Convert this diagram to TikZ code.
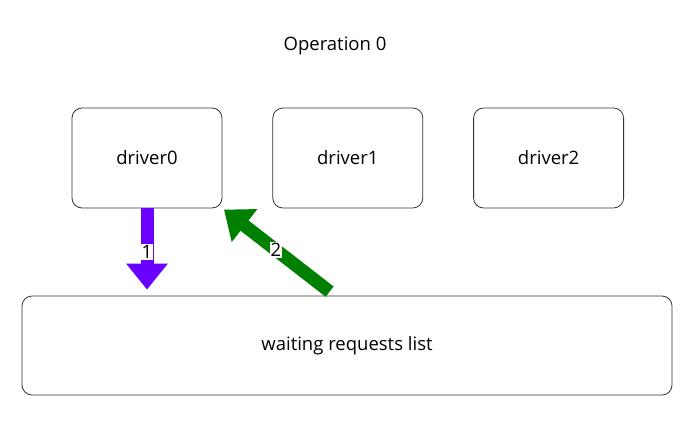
\documentclass[tikz,border=0pt]{standalone}
\usepackage{fontspec}
\setmainfont{Open Sans}
\usetikzlibrary{arrows.meta}
\usetikzlibrary{positioning}
\definecolor{reqpurple}{HTML}{6A00FF}
\definecolor{reqgreen}{HTML}{008000}
\tikzset{
    box/.style = {draw=black!80,line width=0.8pt,rounded corners=10pt,align=center},
    driver/.style = {box,minimum width=150pt,minimum height=100pt},
    fatarrow/.style = {line width=13pt,-{Triangle[width=40pt,length=26pt]}},
    num/.style = {fill=white,inner sep=1pt}
}

\begin{document}
\begin{tikzpicture}[x=1pt,y=-1pt,font=\fontsize{18.5}{22}\selectfont]
        \useasboundingbox (0,0) rectangle (692,421);
        % Title
        \node (title) at (335,46) {Operation 0};
        % Drivers
        \node[driver] (d0) at (147,158) {driver0};
        \node[driver,right=50pt of d0] (d1) {driver1};
        \node[driver,right=50pt of d1] (d2) {driver2};
        % Requests list
        \node[box,minimum width=650pt,minimum height=99pt] (list) at (347,345.5) {waiting\ requests\ list};
        \coordinate (gstart) at ([xshift=308pt,yshift=4pt]list.north west);
        % Steps
        \draw[fatarrow,draw=reqpurple,fill=reqpurple,shorten >=6pt]
            (d0.south) to node[num] {1} (d0.south |- list.north);
        \draw[fatarrow,draw=reqgreen,fill=reqgreen,shorten >=2pt]
            (gstart) to node[num] {2} (d0.south east);
\end{tikzpicture}
\end{document}
